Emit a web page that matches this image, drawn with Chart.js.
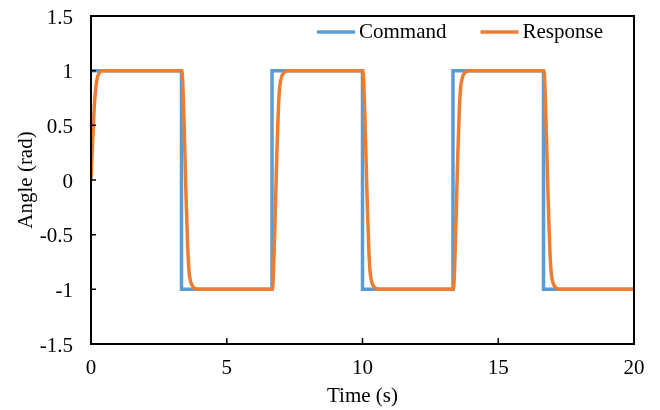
<!DOCTYPE html>
<html>
<head>
<meta charset="utf-8">
<script src="https://cdn.jsdelivr.net/npm/chart.js@4/dist/chart.umd.min.js"></script>
<style>
  body { margin: 0; background: #fff; }
</style>
</head>
<body>
<canvas id="angleChart" width="660" height="410"></canvas>
<script>
// axis ticks
const xTicks = [0, 5, 10, 15, 20];
const yTicks = [-1.5, -1, -0.5, 0, 0.5, 1, 1.5];
const yTickLabels = ["-1.5", "-1", "-0.5", "0", "0.5", "1", "1.5"];

// command (square wave)
const cmdTime = [0, 3.333, 3.333, 6.667, 6.667, 10, 10, 13.333, 13.333, 16.667, 16.667, 20];
const cmdAngle = [1, 1, -1, -1, 1, 1, -1, -1, 1, 1, -1, -1];

// response
const respTime = [
    0, 0.03, 0.06, 0.09, 0.12, 0.16, 0.2, 0.25, 0.32, 0.42,
    3.333, 3.363, 3.413, 3.463, 3.513, 3.563, 3.613, 3.683, 3.783, 3.933,
    6.667, 6.697, 6.747, 6.797, 6.847, 6.897, 6.947, 7.017, 7.117, 7.267,
    10, 10.03, 10.08, 10.13, 10.18, 10.23, 10.28, 10.35, 10.45, 10.6,
    13.333, 13.363, 13.413, 13.463, 13.513, 13.563, 13.613, 13.683, 13.783, 13.933,
    16.667, 16.697, 16.747, 16.797, 16.847, 16.897, 16.947, 17.017, 17.117, 17.267,
    20
];
const respAngle = [
    0, 0.17, 0.35, 0.52, 0.67, 0.8, 0.89, 0.95, 0.985, 1,
    1, 0.97, 0.65, 0.2, -0.25, -0.62, -0.84, -0.94, -0.985, -1,
    -1, -0.97, -0.65, -0.2, 0.25, 0.62, 0.84, 0.94, 0.985, 1,
    1, 0.97, 0.65, 0.2, -0.25, -0.62, -0.84, -0.94, -0.985, -1,
    -1, -0.97, -0.65, -0.2, 0.25, 0.62, 0.84, 0.94, 0.985, 1,
    1, 0.97, 0.65, 0.2, -0.25, -0.62, -0.84, -0.94, -0.985, -1,
    -1
];

const blue = "#5B9BD5";
const orange = "#ED7D31";
const font = { family: "'Liberation Serif', 'Times New Roman', serif", size: 21 };

// frame, inward tick marks and the legend inside the plot
const framePlugin = {
    id: "frame",
    afterDatasetsDraw(chart) {
        const ctx = chart.ctx;
        const a = chart.chartArea;
        const xs = chart.scales.x;
        const ys = chart.scales.y;
        ctx.save();
        ctx.strokeStyle = "#000";
        ctx.lineWidth = 2;
        ctx.strokeRect(a.left, a.top, a.right - a.left, a.bottom - a.top);
        ctx.lineWidth = 1.5;
        ctx.beginPath();
        xTicks.forEach(v => {
            const px = xs.getPixelForValue(v);
            ctx.moveTo(px, a.bottom);
            ctx.lineTo(px, a.bottom - 6);
        });
        yTicks.forEach(v => {
            const py = ys.getPixelForValue(v);
            ctx.moveTo(a.left, py);
            ctx.lineTo(a.left + 5, py);
        });
        ctx.stroke();

        // legend
        ctx.font = font.size + "px " + font.family;
        ctx.textBaseline = "middle";
        ctx.fillStyle = "#000";
        const sample = 38, gapText = 4, gapItem = 34;
        const ly = a.top + 16;
        const sets = chart.data.datasets;
        let widths = sets.map(d => sample + gapText + ctx.measureText(d.label).width);
        let x = a.right - 31 - widths.reduce((s, w) => s + w, 0) - gapItem * (sets.length - 1);
        sets.forEach((d, i) => {
            ctx.strokeStyle = d.borderColor;
            ctx.lineWidth = d.borderWidth;
            ctx.beginPath();
            ctx.moveTo(x, ly);
            ctx.lineTo(x + sample, ly);
            ctx.stroke();
            ctx.fillText(d.label, x + sample + gapText, ly);
            x += widths[i] + gapItem;
        });
        ctx.restore();
    }
};

new Chart(document.getElementById("angleChart"), {
    type: "line",
    data: {
        datasets: [
            {
                label: "Command",
                data: cmdTime.map((t, i) => ({ x: t, y: cmdAngle[i] })),
                borderColor: blue,
                backgroundColor: blue,
                borderWidth: 3.5,
                pointRadius: 0,
                order: 2
            },
            {
                label: "Response",
                data: respTime.map((t, i) => ({ x: t, y: respAngle[i] })),
                borderColor: orange,
                backgroundColor: orange,
                borderWidth: 3.5,
                pointRadius: 0,
                cubicInterpolationMode: "monotone",
                order: 1
            }
        ]
    },
    options: {
        responsive: false,
        animation: false,
        layout: { padding: { top: 16, right: 26, left: 0, bottom: 0 } },
        plugins: {
            tooltip: { enabled: false },
            legend: { display: false }
        },
        scales: {
            x: {
                type: "linear",
                min: 0,
                max: 20,
                afterBuildTicks: s => { s.ticks = xTicks.map(v => ({ value: v })); },
                afterFit: s => { s.height = 66; },
                grid: { display: false, drawTicks: false },
                border: { display: false },
                ticks: { font: font, color: "#000", padding: 12, maxRotation: 0 },
                title: { display: true, text: "Time (s)", font: font, color: "#000", padding: { top: 0, bottom: 1 } }
            },
            y: {
                min: -1.5,
                max: 1.5,
                afterBuildTicks: s => { s.ticks = yTicks.map(v => ({ value: v })); },
                afterFit: s => { s.width = 91; s.paddingTop = 0; s.paddingBottom = 0; },
                grid: { display: false, drawTicks: false },
                border: { display: false },
                ticks: {
                    font: font,
                    color: "#000",
                    padding: 18,
                    labelOffset: 2,
                    callback: (v) => yTickLabels[yTicks.indexOf(v)]
                },
                title: { display: true, text: "Angle (rad)", font: font, color: "#000", padding: { top: 14, bottom: 0 } }
            }
        }
    },
    plugins: [framePlugin]
});
</script>
</body>
</html>
